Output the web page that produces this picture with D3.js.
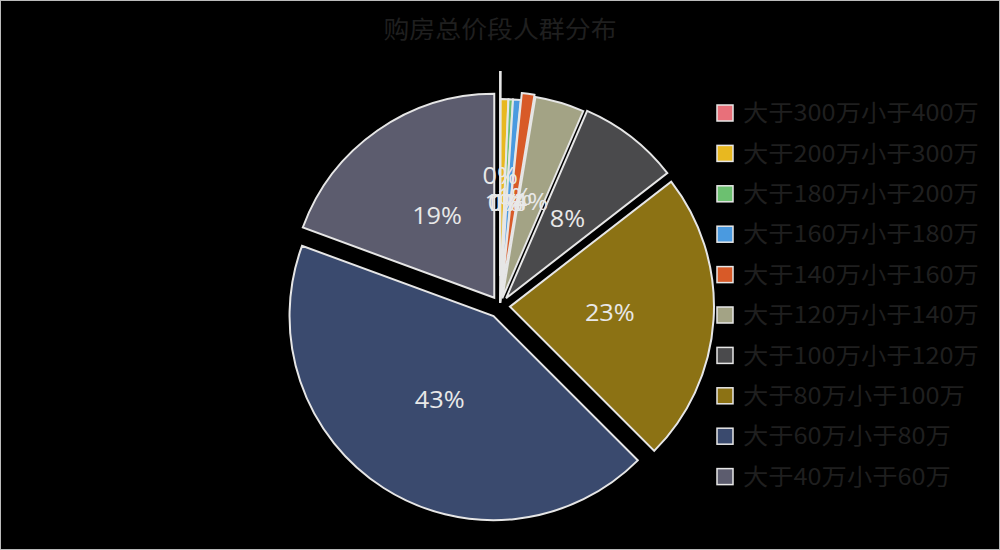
<!DOCTYPE html>
<html><head><meta charset="utf-8">
<script src="https://cdn.jsdelivr.net/npm/d3@7"></script>
<style>html,body{margin:0;padding:0;background:#000;}svg{display:block;}</style>
</head><body>
<svg id="chart" width="1000" height="550"></svg>
<script>
const title = "购房总价段人群分布";
const categories = ["大于300万小于400万","大于200万小于300万","大于180万小于200万","大于160万小于180万","大于140万小于160万","大于120万小于140万","大于100万小于120万","大于80万小于100万","大于60万小于80万","大于40万小于60万"];
const values = [0.05, 0.6, 0.35, 0.6, 1.0, 3.9, 8.0, 23.0, 43.1, 19.4];
const colors = ["#e8707a","#e8b820","#6cc070","#4a9ae0","#d85a28","#a3a385","#4a4a4c","#8c7214","#3a4a6e","#5c5c6e"];
const explode = [30, 3, 3, 3, 10, 8, 10, 10, 12, 10];

const svg = d3.select("#chart");
svg.append("rect").attr("x",0.5).attr("y",0.5).attr("width",999).attr("height",549)
  .attr("fill","#000").attr("stroke","#bbb").attr("stroke-width",1);

svg.append("text").attr("transform","translate(500,38) scale(1.08,1)").attr("text-anchor","middle")
  .attr("font-family","'Noto Sans CJK SC'").attr("font-size",24).attr("fill","#1f1f1f").text(title);

const cx = 500, cy = 306, r = 204;
const total = d3.sum(values);
const data = categories.map((c,i)=>({c, v: values[i], color: colors[i], ex: explode[i]}));
const pie = d3.pie().value(d=>d.v).sort(null);
const arcs = pie(data);
const arc = d3.arc().innerRadius(0).outerRadius(r);
const fmt = d3.format(".0%");
const off = d => { const a=(d.startAngle+d.endAngle)/2; return [Math.sin(a), -Math.cos(a)]; };

const g = svg.append("g").attr("transform",`translate(${cx},${cy})`);
g.selectAll("path.slice").data(arcs).join("path").attr("class","slice")
  .attr("transform", d => { const [x,y]=off(d); return `translate(${x*d.data.ex},${y*d.data.ex})`; })
  .attr("d", arc).attr("fill", d=>d.data.color)
  .attr("stroke","#e6e6e6").attr("stroke-width",2).attr("stroke-linejoin","miter");
g.selectAll("text.lbl").data(arcs).join("text").attr("class","lbl")
  .attr("transform", d => { const [x,y]=off(d); const k=d.data.ex+100; return `translate(${x*k},${y*k}) scale(1.1,1)`; })
  .attr("text-anchor","middle").attr("dy","0.35em")
  .attr("font-family","'Open Sans'").attr("font-size",23).attr("fill","#e8e8e8")
  .text(d => fmt(d.data.v/total));

const lg = svg.append("g");
const items = lg.selectAll("g").data(data).join("g")
  .attr("transform",(d,i)=>`translate(717,${105 + i*40.4})`);
items.append("rect").attr("width",16).attr("height",16).attr("fill",d=>d.color)
  .attr("stroke","#e6e6e6").attr("stroke-width",1.5);
items.append("text").attr("transform","translate(26,8) scale(1.1,1)").attr("dy","0.36em")
  .attr("font-family","'Noto Sans CJK SC'").attr("font-size",23).attr("fill","#1f1f1f")
  .text(d=>d.c);
</script>
</body></html>
